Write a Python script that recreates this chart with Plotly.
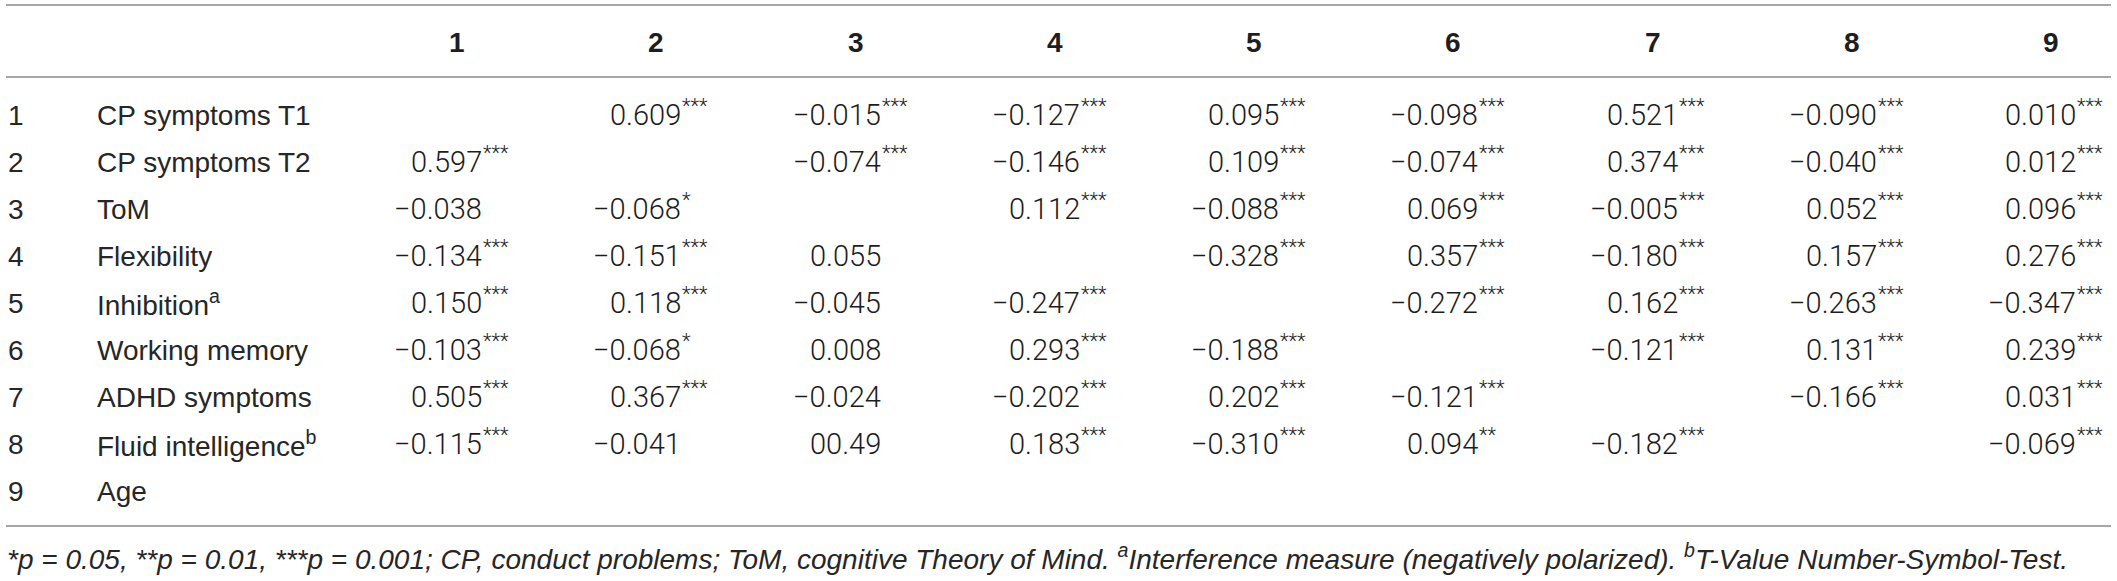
import re
import plotly.graph_objects as go

# table content
col_headers = ["1", "2", "3", "4", "5", "6", "7", "8", "9"]
row_numbers = ["1", "2", "3", "4", "5", "6", "7", "8", "9"]
row_labels = [
    "CP symptoms T1",
    "CP symptoms T2",
    "ToM",
    "Flexibility",
    "Inhibition<sup>a</sup>",
    "Working memory",
    "ADHD symptoms",
    "Fluid intelligence<sup>b</sup>",
    "Age",
]

r1 = ["", "0.609***", "\u22120.015***", "\u22120.127***", "0.095***", "\u22120.098***", "0.521***", "\u22120.090***", "0.010***"]
r2 = ["0.597***", "", "\u22120.074***", "\u22120.146***", "0.109***", "\u22120.074***", "0.374***", "\u22120.040***", "0.012***"]
r3 = ["\u22120.038", "\u22120.068*", "", "0.112***", "\u22120.088***", "0.069***", "\u22120.005***", "0.052***", "0.096***"]
r4 = ["\u22120.134***", "\u22120.151***", "0.055", "", "\u22120.328***", "0.357***", "\u22120.180***", "0.157***", "0.276***"]
r5 = ["0.150***", "0.118***", "\u22120.045", "\u22120.247***", "", "\u22120.272***", "0.162***", "\u22120.263***", "\u22120.347***"]
r6 = ["\u22120.103***", "\u22120.068*", "0.008", "0.293***", "\u22120.188***", "", "\u22120.121***", "0.131***", "0.239***"]
r7 = ["0.505***", "0.367***", "\u22120.024", "\u22120.202***", "0.202***", "\u22120.121***", "", "\u22120.166***", "0.031***"]
r8 = ["\u22120.115***", "\u22120.041", "00.49", "0.183***", "\u22120.310***", "0.094**", "\u22120.182***", "", "\u22120.069***"]
r9 = ["", "", "", "", "", "", "", "", ""]
cells = [r1, r2, r3, r4, r5, r6, r7, r8, r9]

footnote = ("*p = 0.05, **p = 0.01, ***p = 0.001; CP, conduct problems; ToM, cognitive Theory of Mind. "
            "<sup>a</sup>Interference measure (negatively polarized). <sup>b</sup>T-Value Number-Symbol-Test.")

# layout (pixels)
W, H = 2117, 581
FONT = "Liberation Sans"
NUM_FONT = "Roboto"
INK = "#262626"
RULE = "#a6a6a6"
col_x0, col_dx = 482, 199.25     # right edge of the number in each column
row_y0, row_dy = 115, 47.0
header_y = 42

fig = go.Figure()
fig.add_trace(go.Scatter(x=[0, W], y=[0, H], mode="markers", marker=dict(opacity=0), hoverinfo="skip"))

ann = []
for j, h in enumerate(col_headers):
    ann.append(dict(x=col_x0 + col_dx * j - 25, y=header_y, text="<b>%s</b>" % h, xanchor="center",
                    font=dict(size=28, color="#1e1e1e")))

for i in range(len(row_labels)):
    y = row_y0 + row_dy * i
    ann.append(dict(x=8, y=y, text=row_numbers[i], xanchor="left", font=dict(size=28, color=INK)))
    ann.append(dict(x=97, y=y, text=row_labels[i], xanchor="left", font=dict(size=28, color=INK)))
    for j, c in enumerate(cells[i]):
        if not c:
            continue
        num, stars = re.match(r"([^*]+)(\**)", c).groups()
        x = col_x0 + col_dx * j
        ann.append(dict(x=x, y=y, text=num, xanchor="right",
                        font=dict(size=29, color="#1c1c1c", family=NUM_FONT, weight=300)))
        if stars:
            ann.append(dict(x=x + 1, y=y, text=stars, xanchor="left", yshift=9,
                            font=dict(size=20, color="#1c1c1c", family=NUM_FONT, weight=300)))

ann.append(dict(x=7, y=557, text="<i>%s</i>" % footnote, xanchor="left", font=dict(size=28, color=INK)))

for a in ann:
    a.update(xref="x", yref="y", yanchor="middle", showarrow=False, borderpad=0, borderwidth=0)

for yy in (5, 77, 526):
    fig.add_shape(type="line", xref="x", yref="y", x0=6, x1=2111, y0=yy, y1=yy,
                  line=dict(color=RULE, width=2))

fig.update_layout(
    width=W, height=H,
    margin=dict(l=0, r=0, t=0, b=0),
    paper_bgcolor="white", plot_bgcolor="white",
    showlegend=False,
    annotations=ann,
    font=dict(family=FONT, color=INK),
    xaxis=dict(range=[0, W], visible=False, fixedrange=True),
    yaxis=dict(range=[H, 0], visible=False, fixedrange=True),
)

# drop the default page margin so the figure fills the window exactly
fig.write_html("out.html", config={"displayModeBar": False},
               post_script="document.body.style.margin='0';document.body.style.overflow='hidden';")
